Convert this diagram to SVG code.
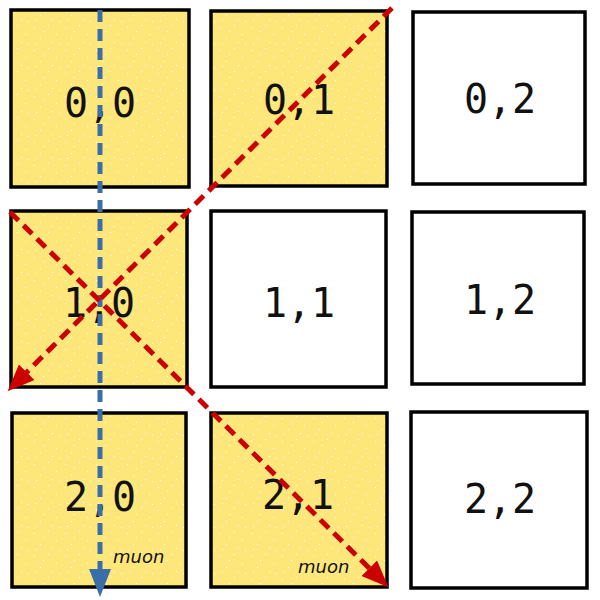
<svg xmlns="http://www.w3.org/2000/svg" width="600" height="600" viewBox="0 0 600 600">
  <style>
    .cell { stroke: #000; stroke-width: 3.5; }
    .hit { fill: url(#speckle); }
    .miss { fill: #fff; }
    .lbl { font-family: "DejaVu Sans Mono", "Liberation Mono", monospace; font-size: 40px; fill: #111; text-anchor: middle; }
    .muon { font-family: "DejaVu Sans", "Liberation Sans", sans-serif; font-size: 18px; font-style: italic; fill: #111; }
    .blue { stroke: #3a6ea8; stroke-width: 5; stroke-dasharray: 12 7; fill: none; }
    .red { stroke: #cc0000; stroke-width: 5; stroke-dasharray: 12 7; fill: none; }
  </style>
  <defs>
    <pattern id="speckle" patternUnits="userSpaceOnUse" width="31" height="23">
      <rect width="31" height="23" fill="#fde67a"/>
      <rect x="3" y="4" width="1" height="1" fill="#fff"/>
      <rect x="17" y="2" width="1" height="1" fill="#fff"/>
      <rect x="25" y="11" width="1" height="1" fill="#fff"/>
      <rect x="9" y="15" width="1" height="1" fill="#fff"/>
      <rect x="21" y="19" width="1" height="1" fill="#fff"/>
      <rect x="12" y="8" width="1" height="1" fill="#fff"/>
      <rect x="28" y="21" width="1" height="1" fill="#fff"/>
      <rect x="5" y="20" width="1" height="1" fill="#fff"/>
    </pattern>
    <marker id="blueHead" markerUnits="userSpaceOnUse" viewBox="0 -14 32 28" markerWidth="32" markerHeight="28" refX="1" refY="0" orient="auto">
      <path d="M0,-11 L28,0 L0,11 z" fill="#3a6ea8"/>
    </marker>
    <marker id="redHead" markerUnits="userSpaceOnUse" viewBox="0 -14 32 28" markerWidth="32" markerHeight="28" refX="1" refY="0" orient="auto">
      <path d="M0,-11 L27,0 L0,11 z" fill="#cc0000"/>
    </marker>
  </defs>

  <g id="cell-0-0"><rect class="cell hit" x="11" y="10" width="178" height="177"/><text class="lbl" x="100" y="117">0,0</text></g>
  <g id="cell-0-1"><rect class="cell hit" x="211" y="11" width="176" height="175"/><text class="lbl" x="299" y="114">0,1</text></g>
  <g id="cell-0-2"><rect class="cell miss" x="413" y="12" width="172" height="172"/><text class="lbl" x="500" y="113">0,2</text></g>
  <g id="cell-1-0"><rect class="cell hit" x="11" y="211" width="176" height="176"/><text class="lbl" x="99" y="317">1,0</text></g>
  <g id="cell-1-1"><rect class="cell miss" x="211" y="211" width="175" height="176"/><text class="lbl" x="299" y="317">1,1</text></g>
  <g id="cell-1-2"><rect class="cell miss" x="412" y="212" width="172" height="172"/><text class="lbl" x="500" y="314">1,2</text></g>
  <g id="cell-2-0"><rect class="cell hit" x="12" y="413" width="174" height="174"/><text class="lbl" x="100" y="511">2,0</text></g>
  <g id="cell-2-1"><rect class="cell hit" x="211" y="413" width="176" height="174"/><text class="lbl" x="298" y="509">2,1</text></g>
  <g id="cell-2-2"><rect class="cell miss" x="411" y="412" width="176" height="176"/><text class="lbl" x="500" y="513">2,2</text></g>

  <g id="connectors">
    <line class="blue" x1="100" y1="10" x2="100" y2="570" marker-end="url(#blueHead)"/>
    <line class="red" x1="392" y1="8" x2="26" y2="373" marker-end="url(#redHead)"/>
    <line class="red" x1="10" y1="212" x2="370" y2="569" marker-end="url(#redHead)"/>
    <text class="muon" x="113" y="563">muon</text>
    <text class="muon" x="298" y="573">muon</text>
  </g>
</svg>
